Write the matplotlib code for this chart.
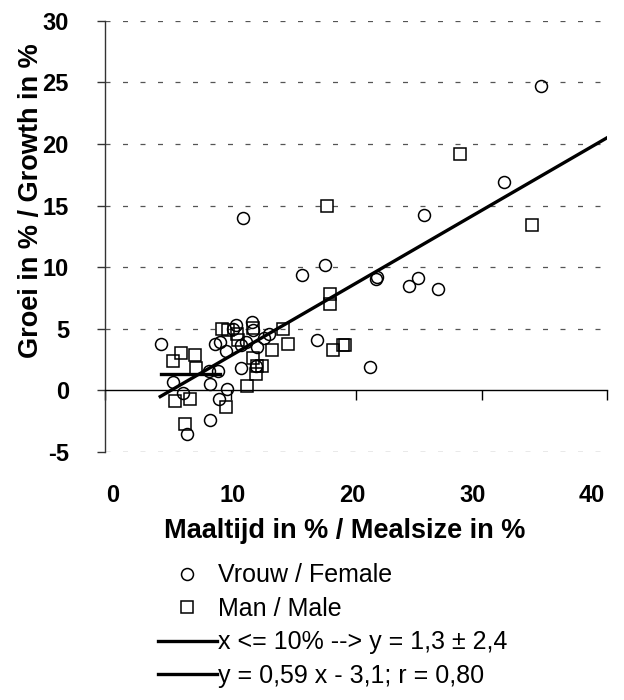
import matplotlib
matplotlib.use("Agg")
import matplotlib.pyplot as plt
import numpy as np

plt.rcParams['font.family'] = ['Liberation Sans', 'DejaVu Sans']
plt.rcParams['axes.unicode_minus'] = False

# Vrouw / Female (circles)
female_x = [34.7, 31.8, 25.4, 11.0, 17.5, 15.7, 21.6, 21.7, 24.9, 24.2, 26.5, 16.9, 21.1,
            4.5, 5.4, 6.2, 6.5, 8.4, 8.4, 8.3, 9.0, 9.7, 9.1, 8.8, 9.2, 9.6, 10.4, 10.8,
            10.8, 11.7, 11.8, 12.1, 13.1, 12.0, 12.7, 10.2, 11.2]
female_y = [24.7, 16.9, 14.2, 14.0, 10.2, 9.4, 9.0, 9.2, 9.1, 8.5, 8.2, 4.1, 1.9,
            3.8, 0.7, -0.2, -3.5, -2.4, 0.5, 1.6, 1.6, 0.1, -0.7, 3.8, 3.9, 3.2, 5.3, 3.65,
            1.8, 5.55, 4.9, 3.5, 4.6, 2.0, 4.25, 5.0, 3.9]

# Man / Male (squares)
male_x = [28.3, 17.7, 34.0, 17.9, 17.9, 14.2, 14.6, 18.2, 19.0, 19.1, 9.3, 9.8, 10.5,
          10.6, 11.8, 13.3, 6.05, 5.45, 7.2, 7.25, 5.6, 6.8, 9.6, 11.3, 6.4, 12.1, 12.5,
          12.0, 11.8]
male_y = [19.2, 15.0, 13.4, 7.8, 7.0, 5.0, 3.8, 3.3, 3.65, 3.7, 5.0, 4.9, 4.6,
          4.06, 5.1, 3.3, 3.0, 2.4, 2.85, 1.8, -0.86, -0.7, -1.35, 0.36, -2.75, 2.0, 2.0,
          1.36, 2.6]

# x <= 10% : mean line
mean_x = [4.5, 9.2]
mean_y = 1.3

# regression y = 0.59 x - 3.1
fit_x = np.array([4.4, 40])
slope, intercept = 0.59, -3.1

xticks = [0, 10, 20, 30, 40]
yticks = [-5, 0, 5, 10, 15, 20, 25, 30]

# the original's x labels sit a bit squeezed relative to the tick marks
lab_off, lab_scale = 0.64, 0.954

fig = plt.figure(figsize=(6.24, 7), dpi=100)
ax = fig.add_axes([0.1683, 0.3543, 0.8045, 0.6161])

ax.plot(female_x, female_y, 'o', ms=8.6, mfc='none', mec='black', mew=1.1,
        label='Vrouw / Female')
ax.plot(male_x, male_y, 's', ms=8, mfc='none', mec='black', mew=1.1,
        label='Man / Male')
ax.plot(mean_x, [mean_y, mean_y], color='black', lw=2.4,
        label='x <= 10% --> y = 1,3 ± 2,4')
ax.plot(fit_x, slope * fit_x + intercept, color='black', lw=2.4,
        label='y = 0,59 x - 3,1; r = 0,80')

ax.set_xlim(0, 40)
ax.set_ylim(-5, 30)
ax.set_xticks(xticks)
ax.set_yticks(yticks)

# grid, dashed grey
for yv in yticks:
    if yv != 0:
        ax.axhline(yv, color='#555555', lw=0.9, dashes=(4, 10), zorder=0)

for s in ['top', 'right']:
    ax.spines[s].set_visible(False)
ax.spines['bottom'].set_position(('data', 0))
ax.spines['bottom'].set_linewidth(1.0)
ax.spines['left'].set_linewidth(1.0)
ax.spines['left'].set_color('#333333')

ax.tick_params(axis='x', direction='out', length=7, width=1, labelbottom=False)
ax.tick_params(axis='y', direction='out', length=6, width=1, pad=20,
               labelsize=17, color='#333333')
for lbl in ax.get_yticklabels():
    lbl.set_fontweight('bold')

sec = ax.secondary_xaxis('bottom', functions=(lambda x: (x - lab_off) / lab_scale,
                                              lambda u: u * lab_scale + lab_off))
sec.set_xticks(xticks)
sec.spines['bottom'].set_visible(False)
sec.tick_params(axis='x', length=0, pad=23, labelsize=17)
for lbl in sec.get_xticklabels():
    lbl.set_fontweight('bold')

ax.set_xlabel('Maaltijd in % / Mealsize in %', fontsize=19.5, fontweight='bold')
ax.xaxis.set_label_coords(0.477, -0.183)
ax.xaxis.label.set_va('center')
ax.set_ylabel('Groei in % / Growth in %', fontsize=19.5, fontweight='bold')
ax.yaxis.set_label_coords(-0.147, 0.582)
ax.yaxis.label.set_va('center')

ax.legend(loc='upper left', bbox_to_anchor=(0.253, 0.195),
          bbox_transform=fig.transFigure, frameon=False, fontsize=18,
          handlelength=2.35, handletextpad=0.05, borderpad=0, borderaxespad=0,
          labelspacing=0.38, numpoints=1)

fig.savefig('out.png', dpi=100)
